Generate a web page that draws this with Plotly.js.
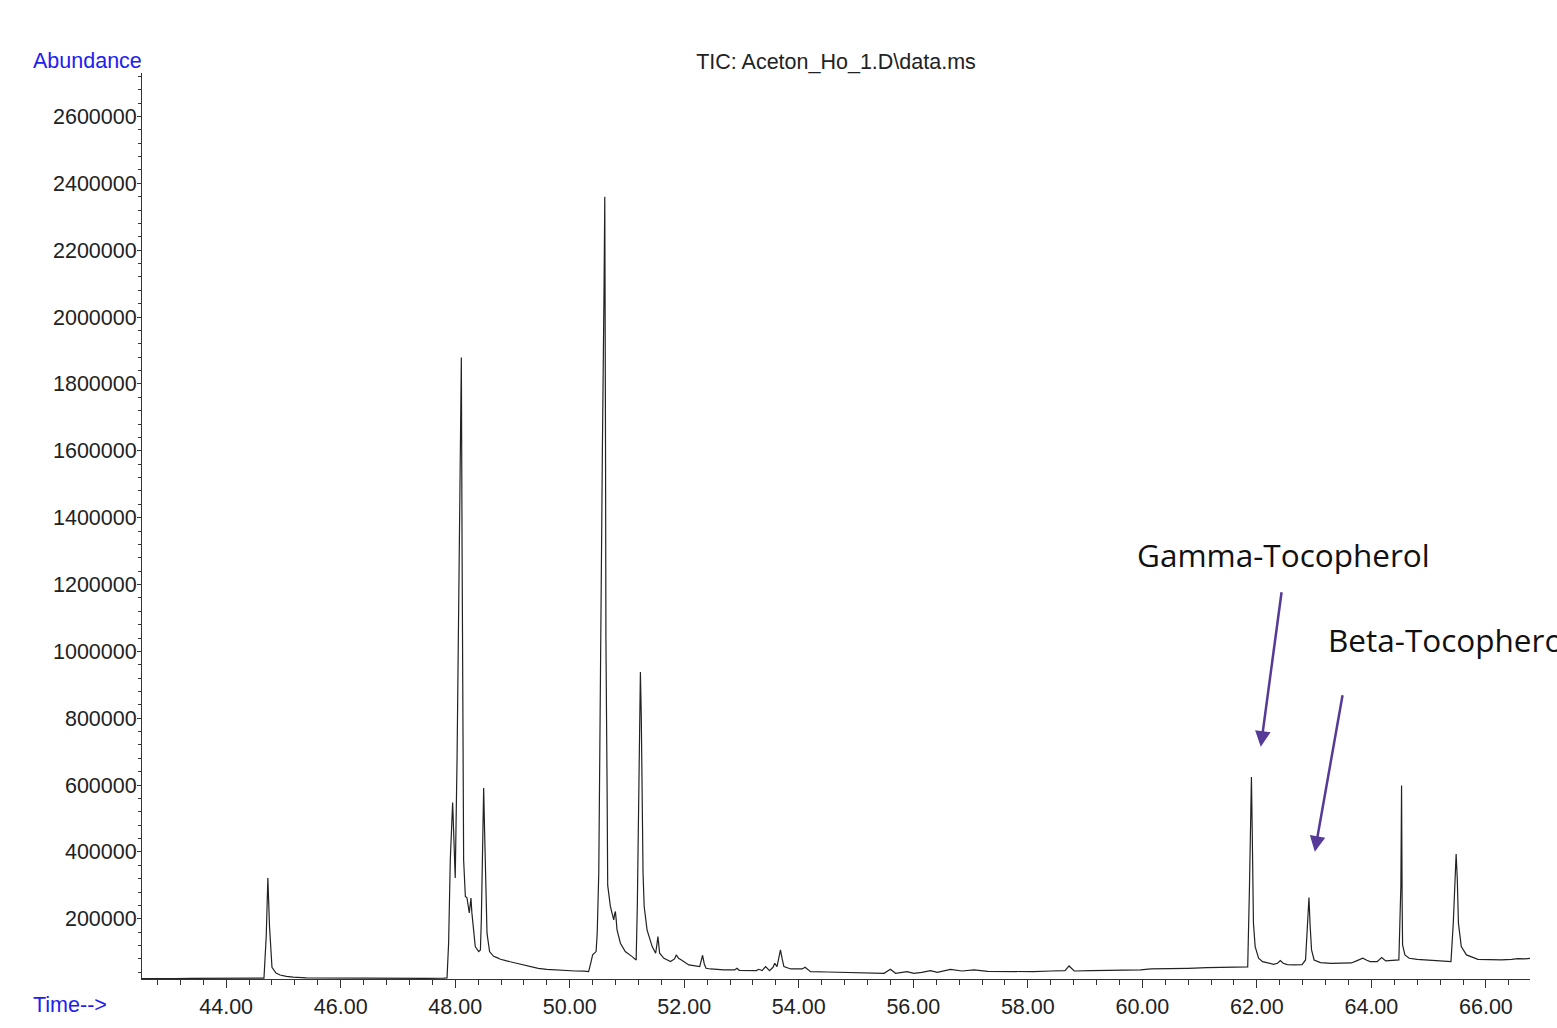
<!DOCTYPE html>
<html>
<head>
<meta charset="utf-8">
<script src="https://cdn.plot.ly/plotly-3.0.1.min.js"></script>
<style>html,body{margin:0;padding:0;background:#fff;}#chart{width:1557px;height:1028px;}</style>
</head>
<body>
<div id="chart"></div>
<script>
// Retention time (min)
const times = [
42.53,42.80,43.10,43.40,43.70,44.00,44.30,44.50,44.66,44.70,44.728,44.757,44.78,44.80,44.87,44.94,45.05,45.17,45.40,45.70,
46.00,46.30,46.70,47.10,47.50,47.80,47.857,47.885,47.914,47.955,47.975,48.00,48.032,48.07,48.095,48.107,48.12,48.13,48.147,48.177,
48.205,48.246,48.262,48.275,48.29,48.31,48.35,48.41,48.44,48.456,48.48,48.497,48.512,48.526,48.555,48.60,48.67,48.73,48.79,48.90,49.00,
49.10,49.20,49.30,49.45,49.60,49.80,49.95,50.10,50.25,50.33,50.37,50.40,50.46,50.48,50.507,50.52,50.535,50.57,50.60,50.612,
50.625,50.632,50.652,50.663,50.71,50.768,50.785,50.797,50.81,50.826,50.885,50.97,51.09,51.16,51.18,51.20,51.22,51.234,51.25,51.26,
51.28,51.30,51.35,51.44,51.50,51.52,51.54,51.57,51.645,51.76,51.83,51.86,51.90,51.95,52.08,52.27,52.30,52.32,52.35,52.38,
52.46,52.69,52.88,52.92,52.96,53.16,53.26,53.30,53.36,53.42,53.49,53.55,53.58,53.62,53.66,53.68,53.71,53.74,53.86,53.97,
54.06,54.11,54.16,54.205,54.50,54.73,55.00,55.25,55.49,55.60,55.69,55.89,56.01,56.15,56.30,56.42,56.65,56.85,57.06,57.30,
57.55,57.82,58.10,58.40,58.65,58.72,58.81,59.10,59.39,59.70,59.97,60.15,60.35,60.50,60.80,61.13,61.50,61.81,61.84,61.87,
61.89,61.905,61.92,61.94,61.97,62.03,62.10,62.18,62.29,62.36,62.41,62.46,62.53,62.65,62.79,62.85,62.88,62.91,62.93,62.955,
63.00,63.11,63.30,63.46,63.65,63.75,63.85,63.92,63.98,64.10,64.18,64.25,64.40,64.48,64.515,64.527,64.537,64.545,64.585,64.66,
64.80,64.98,65.22,65.39,65.43,65.455,65.48,65.50,65.52,65.57,65.66,65.86,66.05,66.27,66.45,66.56,66.68,66.77
];
// Abundance (TIC)
const abundance = [
21000,22000,21500,22000,21800,22300,22000,22400,22500,150000,322000,177000,90000,55000,38000,32000,28000,25500,23500,23000,
23500,22500,22500,22000,22000,22400,23000,128000,376000,548000,450000,322000,676000,1300000,1750000,1879000,1300000,676000,376000,267000,
263000,218000,250000,262000,220000,177000,117000,102000,107000,197000,476000,591000,470000,326000,157000,102000,88000,84000,79000,74000,70000,
66000,61000,57000,52000,49000,46500,45000,44000,43500,42000,70000,92000,102000,157000,337000,637000,1035000,1600000,2100000,2360000,
1600000,1035000,600000,300000,237000,197000,215000,222000,200000,167000,127000,102000,87000,77000,237000,536000,800000,938000,800000,636000,
337000,237000,167000,117000,97000,120000,147000,97000,82000,72000,80000,92000,82000,77000,62000,57000,75000,91000,65000,52000,
50000,47000,47000,52000,46000,44000,45000,49000,45000,57000,45000,55000,67000,57000,95000,107000,80000,57000,50000,49000,
50000,55000,47000,42000,41000,40000,40000,39000,37000,49000,37000,42000,37000,40000,45000,40000,49000,44000,47000,43000,
42000,42000,42000,44000,45000,59000,44000,45000,45000,46000,47000,50000,50000,52000,52000,54000,54000,54000,56000,287000,
520000,624000,450000,188000,117000,82000,72000,68000,64000,67000,75000,67000,63000,62000,63000,77000,180000,264000,180000,107000,
77000,69000,67000,67000,68000,75000,82000,76000,72000,72000,84000,74000,76000,77000,300000,599000,250000,122000,92000,82000,
79000,77000,74000,72000,187000,320000,394000,320000,187000,117000,92000,79000,78000,77000,79000,81000,80000,82000
];

// Compound labels and arrow tips
const compoundLabels = ["Gamma-Tocopherol", "Beta-Tocopherol"];
const labelX = [59.87, 63.21];
const labelY = [1289000, 1035000];
const arrowTipX = [62.068, 63.012];
const arrowTipY = [714600, 400400];
const arrowTailDX = [21, 28];
const arrowTailDY = [-156, -158];

const titleText = "TIC: Aceton_Ho_1.D\\data.ms";
const yAxisLabel = "Abundance";
const xAxisLabel = "Time-->";

const tickFont = {family: "Liberation Sans, Arial, sans-serif", size: 21.5, color: "#222"};
const blue = "#2020f0";
const purple = "#553a98";

const trace = {
  x: times, y: abundance, type: "scatter", mode: "lines",
  line: {color: "#222", width: 1.2}, hoverinfo: "x+y"
};

const annotations = [];
compoundLabels.forEach((t, i) => {
  annotations.push({
    x: arrowTipX[i], y: arrowTipY[i], xref: "x", yref: "y", text: "",
    showarrow: true, arrowhead: 2, arrowsize: 1.25, arrowwidth: 2.5,
    arrowcolor: purple, ax: arrowTailDX[i], ay: arrowTailDY[i], standoff: 0
  });
  annotations.push({
    x: labelX[i], y: labelY[i], xref: "x", yref: "y", text: t,
    showarrow: false, xanchor: "left", yanchor: "middle",
    font: {family: "Open Sans, Noto Sans, sans-serif", size: 31.5, color: "#111"}
  });
});
annotations.push({
  x: 0.0015, y: 1.0132, xref: "paper", yref: "paper", text: yAxisLabel,
  showarrow: false, xanchor: "right", yanchor: "middle",
  font: {family: "Liberation Sans, Arial, sans-serif", size: 21.5, color: blue}
});
annotations.push({
  x: -0.0800, y: -0.0287, xref: "paper", yref: "paper", text: xAxisLabel,
  showarrow: false, xanchor: "left", yanchor: "middle",
  font: {family: "Liberation Sans, Arial, sans-serif", size: 21.5, color: blue}
});

const layout = {
  width: 1557, height: 1028,
  margin: {l: 142, r: 27, t: 73, b: 49},
  paper_bgcolor: "#fff", plot_bgcolor: "#fff",
  showlegend: false,
  title: {text: titleText, x: 0.5, xref: "paper", xanchor: "center", y: 1 - 61/1028, yanchor: "middle",
          font: {family: "Liberation Sans, Arial, sans-serif", size: 21.5, color: "#222"}},
  xaxis: {
    range: [42.53, 66.77], showgrid: false, zeroline: false,
    showline: true, linecolor: "#333", linewidth: 1,
    ticks: "outside", ticklen: 8, tickwidth: 1, tickcolor: "#333",
    tick0: 44, dtick: 2, tickformat: ".2f", tickfont: tickFont,
    minor: {ticks: "outside", ticklen: 5, tickwidth: 1, tickcolor: "#333", tick0: 44, dtick: 0.4, showgrid: false}
  },
  yaxis: {
    range: [20000, 2730000], showgrid: false, zeroline: false,
    showline: true, linecolor: "#333", linewidth: 1,
    ticks: "outside", ticklen: 4, tickwidth: 1, tickcolor: "#333",
    tick0: 0, dtick: 200000, tickformat: "d", tickfont: tickFont, ticklabelstandoff: -4,
    minor: {ticks: "outside", ticklen: 3, tickwidth: 1, tickcolor: "#333", tick0: 0, dtick: 40000, showgrid: false}
  },
  annotations: annotations
};

Plotly.newPlot("chart", [trace], layout, {displayModeBar: false, staticPlot: true});
</script>
</body>
</html>
